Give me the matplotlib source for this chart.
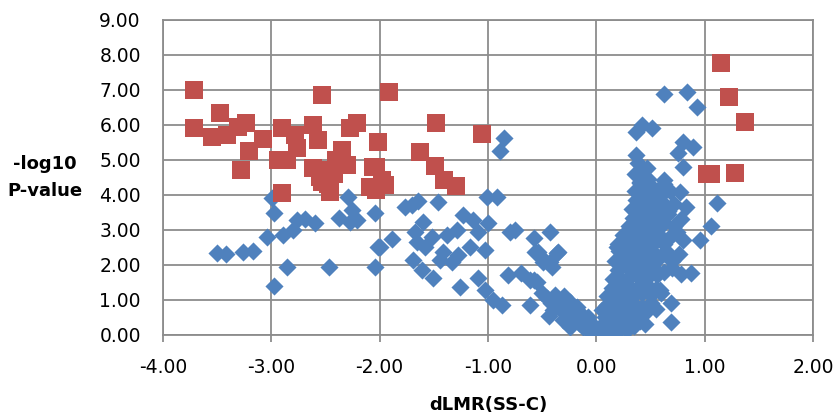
import matplotlib
matplotlib.use("Agg")
import matplotlib.pyplot as plt

# blue diamonds: dLMR(SS-C) and -log10 P
blue_x = [
    -3.50, -3.42, -3.26, -3.17, -3.04, -2.98, -2.99, -2.98, -2.86, -2.89,
    -2.80, -2.76, -2.69, -2.60, -2.47, -2.38, -2.29, -2.26, -2.27, -2.21,
    -2.04, -2.04, -2.02, -2.00, -1.89, -1.77, -1.70, -1.65, -1.46, -1.60,
    -1.67, -1.66, -1.58, -1.52, -1.69, -1.61, -1.51, -1.42, -1.38, -1.44,
    -1.33, -1.28, -1.23, -1.29, -1.26, -1.17, -1.14, -1.09, -1.00, -1.03,
    -1.01, -0.92, -1.09, -1.03, -0.95, -0.87, -0.82, -0.80, -0.75, -0.70,
    -0.61, -0.58, -0.54, -0.58, -0.43, -0.36, -0.49, -0.41, -0.85, -0.89,
    -0.57, -0.50, -0.43, -0.35, -0.55, -0.61,
    # V bottom, negative side
    -0.50, -0.46, -0.42, -0.38, -0.35, -0.33, -0.30, -0.28, -0.26, -0.24,
    -0.22, -0.20, -0.18, -0.16, -0.14, -0.12, -0.10, -0.08, -0.06, -0.04,
    -0.02, 0.00, -0.44, -0.40, -0.31, -0.24, -0.18, -0.12, -0.06, -0.15,
    # V bottom, positive side
    0.03, 0.06, 0.10, 0.12, 0.15, 0.18, 0.20, 0.24, 0.28, 0.30,
    0.35, 0.40, 0.45, 0.08, 0.05, 0.10, 0.14, 0.18, 0.22, 0.26,
    0.30, 0.34, 0.38, 0.42, 0.46, 0.50, 0.55, 0.10, 0.14, 0.18,
    0.22, 0.26, 0.30, 0.34, 0.38, 0.42, 0.46, 0.50, 0.55, 0.60,
    0.15, 0.20, 0.24, 0.28, 0.32, 0.36, 0.40, 0.44, 0.48, 0.52,
    0.56, 0.62, 0.70, 0.78, 0.17, 0.21, 0.25, 0.29, 0.33, 0.37,
    0.41, 0.45, 0.49, 0.53, 0.58, 0.64, 0.70, 0.76, 0.20, 0.25,
    0.30, 0.34, 0.38, 0.42, 0.46, 0.50, 0.54, 0.58, 0.62, 0.68,
    0.74, 0.80, 0.30, 0.34, 0.38, 0.42, 0.46, 0.50, 0.54, 0.58,
    0.62, 0.66, 0.72, 0.78, 0.33, 0.37, 0.41, 0.45, 0.49, 0.53,
    0.57, 0.61, 0.66, 0.72, 0.60, 0.36, 0.40, 0.44, 0.48, 0.52,
    0.56, 0.62, 0.68, 0.36, 0.38, 0.42, 0.47, 0.37, 0.62, 0.40,
    # scattered upper right
    0.42, 0.37, 0.51, 0.80, 0.89, 0.75, 0.80, 0.62, 0.84, 0.93,
    0.77, 0.83, 1.11, 1.06, 0.96, 0.87, 0.69, 0.69, 0.59, 0.19,
    0.19, 0.13,
]
blue_y = [
    2.34, 2.31, 2.37, 2.40, 2.80, 3.49, 3.91, 1.40, 1.94, 2.86,
    3.00, 3.29, 3.31, 3.20, 1.94, 3.34, 3.94, 3.57, 3.23, 3.29,
    3.49, 1.94, 2.51, 2.51, 2.74, 3.66, 3.71, 3.83, 3.80, 3.23,
    2.94, 2.66, 2.51, 2.80, 2.14, 1.86, 1.63, 2.37, 2.86, 2.14,
    2.09, 2.29, 3.43, 3.00, 1.37, 2.51, 3.29, 2.94, 3.20, 2.43,
    3.94, 3.94, 1.63, 1.29, 1.00, 0.86, 1.71, 2.94, 3.00, 1.77,
    0.86, 2.77, 2.37, 1.57, 2.94, 2.34, 2.09, 1.94, 5.63, 5.26,
    2.37, 2.20, 2.09, 2.37, 1.50, 1.57,
    1.20, 1.05, 0.90, 1.15, 0.95, 0.70, 1.10, 0.85, 0.60, 0.95,
    0.75, 0.50, 0.80, 0.35, 0.60, 0.45, 0.25, 0.50, 0.15, 0.30,
    0.05, 0.12, 0.55, 0.70, 0.43, 0.23, 0.43, 0.23, 0.09, 0.63,
    0.10, 0.30, 0.05, 0.35, 0.20, 0.45, 0.10, 0.30, 0.15, 0.45,
    0.25, 0.40, 0.30, 0.50, 0.70, 0.85, 0.60, 0.90, 0.65, 0.95,
    0.70, 0.90, 0.60, 0.80, 0.65, 0.90, 0.75, 1.10, 1.35, 1.15,
    1.45, 1.20, 1.40, 1.10, 1.35, 1.20, 1.45, 1.15, 1.30, 1.20,
    1.60, 1.85, 1.55, 1.95, 1.70, 1.90, 1.60, 1.85, 1.65, 1.95,
    1.70, 1.80, 1.90, 1.75, 2.10, 2.40, 2.20, 2.45, 2.05, 2.30,
    2.15, 2.45, 2.10, 2.35, 2.20, 2.40, 2.10, 2.30, 2.60, 2.85,
    2.70, 2.95, 2.60, 2.80, 2.55, 2.90, 2.65, 2.85, 2.60, 2.80,
    2.95, 2.70, 3.10, 3.35, 3.05, 3.30, 3.15, 3.45, 3.10, 3.35,
    3.20, 3.45, 3.10, 3.30, 3.60, 3.85, 3.55, 3.90, 3.65, 3.95,
    3.60, 3.80, 3.55, 3.75, 4.00, 4.10, 4.35, 4.15, 4.45, 4.20,
    4.05, 4.30, 4.10, 4.60, 4.90, 4.70, 4.77, 5.14, 4.43, 4.37,
    6.00, 5.80, 5.91, 5.51, 5.37, 5.20, 4.80, 6.89, 6.94, 6.51,
    4.09, 3.66, 3.77, 3.11, 2.71, 1.77, 0.91, 0.37, 1.29, 1.57,
    2.51, 0.63,
]

# red squares
red_x = [
    -3.71, -3.71, -3.55, -3.47, -3.41, -3.31, -3.23, -3.21, -3.28, -3.08,
    -2.94, -2.90, -2.86, -2.90, -2.78, -2.76, -2.62, -2.62, -2.57, -2.53,
    -2.53, -2.46, -2.46, -2.35, -2.30, -2.27, -2.21, -2.02, -2.06, -2.09,
    -1.91, -1.48, -1.63, -1.49, -1.41, -1.30, -1.06, -2.03, -1.98, -2.03,
    -1.95, -2.40, -2.35, -2.55, -2.42, -2.48,
    1.15, 1.22, 1.37, 1.02, 1.06, 1.28,
]
red_y = [
    7.00, 5.90, 5.66, 6.34, 5.71, 5.94, 6.06, 5.26, 4.71, 5.60,
    5.00, 5.91, 5.00, 4.05, 5.71, 5.33, 6.00, 4.76, 5.57, 6.86,
    4.37, 4.71, 4.09, 5.29, 4.86, 5.90, 6.06, 5.51, 4.80, 4.23,
    6.94, 6.06, 5.23, 4.83, 4.43, 4.26, 5.74, 4.80, 4.43, 4.14,
    4.29, 5.00, 5.20, 4.50, 4.60, 4.30,
    7.77, 6.80, 6.09, 4.60, 4.60, 4.63,
]

x_ticks = [-4, -3, -2, -1, 0, 1, 2]
y_ticks = [0, 1, 2, 3, 4, 5, 6, 7, 8, 9]


def main():
    fig = plt.figure(figsize=(8.36, 4.16), dpi=100)
    ax = fig.add_axes([0.195, 0.195, 0.7775, 0.757])

    grid_c = "#8c8c8c"
    ax.scatter(blue_x, blue_y, marker="D", s=85, color="#4F81BD", linewidths=0, zorder=3)
    ax.scatter(red_x, red_y, marker="s", s=165, color="#C0504D", linewidths=0, zorder=4)

    ax.set_xlim(-4, 2)
    ax.set_ylim(0, 9)
    ax.set_xticks(x_ticks)
    ax.set_yticks(y_ticks)
    ax.set_xticklabels([f"{v:.2f}" for v in x_ticks])
    ax.set_yticklabels([f"{v:.2f}" for v in y_ticks])
    ax.grid(True, color=grid_c, linewidth=1.3)
    ax.set_axisbelow(True)
    for sp in ax.spines.values():
        sp.set_color(grid_c)
        sp.set_linewidth(1.3)

    ax.tick_params(axis="x", direction="out", length=5, width=1.3, color=grid_c,
                   pad=12, labelsize=13.5)
    ax.tick_params(axis="y", length=0, pad=16, labelsize=13.5)

    ax.set_xlabel("dLMR(SS-C)", fontsize=13, fontweight="bold", va="center")
    ax.xaxis.set_label_coords(0.5, -0.222)
    ax.set_ylabel("-log10\nP-value", fontsize=13, fontweight="bold",
                  rotation=0, linespacing=1.6, ha="center", va="center")
    ax.yaxis.set_label_coords(-0.182, 0.5)

    fig.savefig("out.png", dpi=100)


if __name__ == "__main__":
    main()
